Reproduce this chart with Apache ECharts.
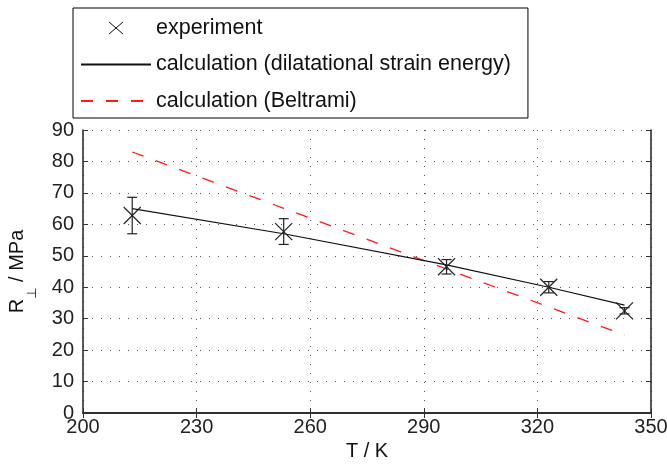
<!DOCTYPE html>
<html>
<head>
<meta charset="utf-8">
<script src="https://cdn.jsdelivr.net/npm/echarts@6/dist/echarts.min.js"></script>
<style>html,body{margin:0;padding:0;background:#fff}#c{width:667px;height:465px}</style>
</head>
<body>
<div id="c"></div>
<script>
const temps = [213, 253, 296, 323, 343];
const expMean = [62.8, 57.7, 46.5, 40.0, 32.5];
const expErr = [5.8, 4.1, 2.3, 1.8, 1.0];
const dilatational = [65.0, 57.0, 47.1, 40.0, 34.3];
const beltrami = [83.0, 65.1, 45.8, 33.7, 24.8];
const xTicks = [200, 230, 260, 290, 320, 350];
const yTicks = [0, 10, 20, 30, 40, 50, 60, 70, 80, 90];
const names = ['experiment', 'calculation (dilatational strain energy)', 'calculation (Beltrami)'];

const FONT = 'Liberation Sans, Arial, Helvetica, sans-serif';
const expData = temps.map((t, i) => [t, expMean[i], expMean[i] - expErr[i], expMean[i] + expErr[i]]);

const chart = echarts.init(document.getElementById('c'), null, {renderer: 'canvas'});
const gridStyle = {show: true, lineStyle: {color: '#555', width: 1, type: [1, 8]}};
const hideSym = {color: 'transparent', borderColor: 'transparent', borderWidth: 0};
chart.setOption({
  animation: false,
  backgroundColor: '#fff',
  grid: {left: 83, right: 16, top: 130, bottom: 52, containLabel: false, outerBoundsMode: 'none'},
  legend: {
    orient: 'vertical', left: 73, top: 8,
    padding: [9, 17, 6, 7],
    itemWidth: 70, itemHeight: 20, itemGap: 14.5,
    borderColor: '#000', borderWidth: 1,
    textStyle: {fontSize: 21.5, fontFamily: FONT, color: '#111'},
    data: [
      {name: names[0], icon: 'path://M28,4L42,16M42,4L28,16M0,0M70,20',
       itemStyle: {color: 'transparent', borderColor: '#111', borderWidth: 1}},
      {name: names[1], itemStyle: hideSym},
      {name: names[2], itemStyle: hideSym}
    ]
  },
  xAxis: [{
    type: 'value', min: xTicks[0], max: xTicks[xTicks.length - 1], interval: 30,
    name: 'T / K', nameLocation: 'middle', nameGap: 28,
    nameTextStyle: {fontSize: 20, fontFamily: FONT, color: '#111'},
    axisLine: {show: true, lineStyle: {color: '#222', width: 1.5}},
    axisTick: {show: true, inside: true, length: 5, lineStyle: {color: '#333'}},
    axisLabel: {fontSize: 20, fontFamily: FONT, color: '#222', margin: 4},
    splitLine: gridStyle
  }, {
    type: 'value', position: 'top', min: xTicks[0], max: xTicks[xTicks.length - 1], interval: 30,
    axisLine: {show: true, lineStyle: {color: '#222', width: 1.5}},
    axisTick: {show: true, inside: true, length: 5, lineStyle: {color: '#333'}},
    axisLabel: {show: false}, splitLine: {show: false}
  }],
  yAxis: [{
    type: 'value', min: yTicks[0], max: yTicks[yTicks.length - 1], interval: 10,
    name: '{r|R}{s|⊥}{t| / MPa}', nameLocation: 'middle', nameGap: 44, nameRotate: 90,
    nameTextStyle: {fontSize: 20, fontFamily: FONT, color: '#111',
      rich: {
        r: {fontSize: 20, fontFamily: FONT, color: '#111'},
        s: {fontSize: 13, fontFamily: 'DejaVu Sans', color: '#111', padding: [30, 0, 0, 0]},
        t: {fontSize: 20, fontFamily: FONT, color: '#111'}
      }},
    axisLine: {show: true, lineStyle: {color: '#222', width: 1.5}},
    axisTick: {show: true, inside: true, length: 5, lineStyle: {color: '#333'}},
    axisLabel: {fontSize: 20, fontFamily: FONT, color: '#222', margin: 9},
    splitLine: gridStyle
  }, {
    type: 'value', position: 'right', min: yTicks[0], max: yTicks[yTicks.length - 1], interval: 10,
    axisLine: {show: true, lineStyle: {color: '#222', width: 1.5}},
    axisTick: {show: true, inside: true, length: 5, lineStyle: {color: '#333'}},
    axisLabel: {show: false}, splitLine: {show: false}
  }],
  series: [{
    name: names[0], type: 'custom', xAxisIndex: 0, yAxisIndex: 0,
    data: expData,
    itemStyle: {color: '#111'},
    renderItem: function (params, api) {
      const c = api.coord([api.value(0), api.value(1)]);
      const lo = api.coord([api.value(0), api.value(2)]);
      const hi = api.coord([api.value(0), api.value(3)]);
      const cw = 5, m = 8.5;
      const st = {stroke: '#222', lineWidth: 1.2, fill: null};
      return {type: 'group', children: [
        {type: 'line', shape: {x1: c[0], y1: lo[1], x2: c[0], y2: hi[1]}, style: st},
        {type: 'line', shape: {x1: c[0] - cw, y1: lo[1], x2: c[0] + cw, y2: lo[1]}, style: st},
        {type: 'line', shape: {x1: c[0] - cw, y1: hi[1], x2: c[0] + cw, y2: hi[1]}, style: st},
        {type: 'line', shape: {x1: c[0] - m, y1: c[1] - m, x2: c[0] + m, y2: c[1] + m}, style: st},
        {type: 'line', shape: {x1: c[0] - m, y1: c[1] + m, x2: c[0] + m, y2: c[1] - m}, style: st}
      ]};
    },
    z: 5
  }, {
    name: names[1], type: 'line', symbol: 'none',
    data: temps.map((t, i) => [t, dilatational[i]]),
    lineStyle: {color: '#111', width: 1.2, type: 'solid'},
    itemStyle: {color: '#111'}, z: 4
  }, {
    name: names[2], type: 'line', symbol: 'none',
    data: temps.map((t, i) => [t, beltrami[i]]),
    lineStyle: {color: '#ff1a1a', width: 1.3, type: [12, 13]},
    itemStyle: {color: '#ff1a1a'}, z: 3
  }]
});
</script>
</body>
</html>
